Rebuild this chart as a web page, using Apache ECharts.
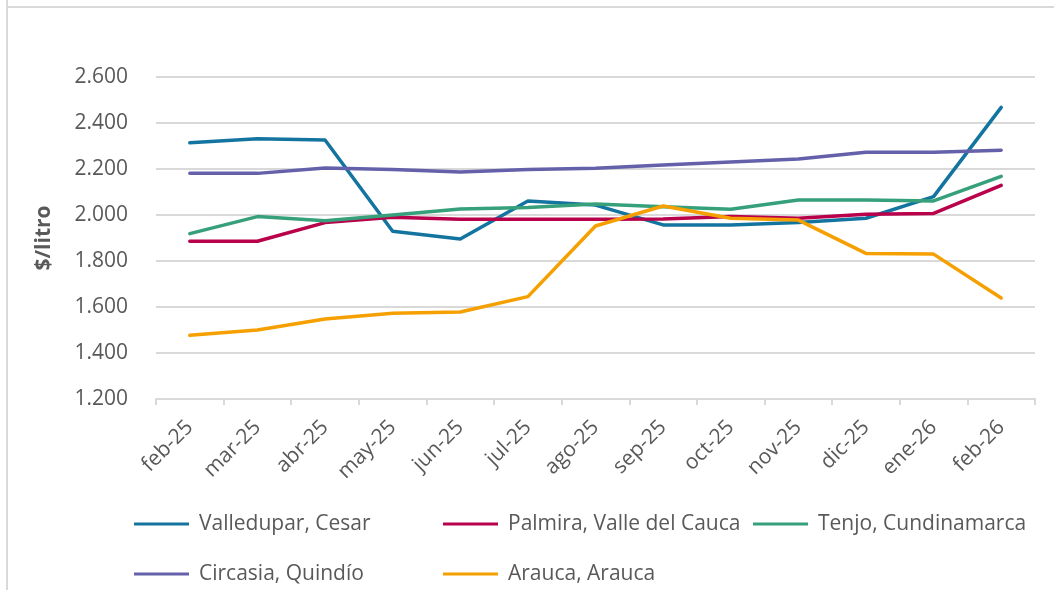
<!DOCTYPE html>
<html>
<head>
<meta charset="utf-8">
<script src="https://cdn.jsdelivr.net/npm/echarts@6/dist/echarts.min.js"></script>
<style>
html,body{margin:0;padding:0;background:#fff;}
#chart{width:1054px;height:590px;}
</style>
</head>
<body>
<div id="chart"></div>
<script>
const categories = ['feb-25','mar-25','abr-25','may-25','jun-25','jul-25','ago-25','sep-25','oct-25','nov-25','dic-25','ene-26','feb-26'];
const valledupar = [2314, 2332, 2326, 1929, 1896, 2061, 2043, 1957, 1957, 1967, 1986, 2080, 2468];
const palmira    = [1886, 1886, 1967, 1990, 1981, 1981, 1981, 1983, 1993, 1986, 2003, 2007, 2129];
const tenjo      = [1919, 1993, 1975, 2000, 2026, 2033, 2048, 2036, 2025, 2065, 2065, 2061, 2168];
const circasia   = [2181, 2181, 2204, 2198, 2187, 2198, 2203, 2217, 2230, 2243, 2273, 2273, 2282];
const arauca     = [1477, 1500, 1548, 1573, 1578, 1645, 1952, 2039, 1986, 1978, 1833, 1830, 1639];
const seriesNames = ['Valledupar, Cesar','Palmira, Valle del Cauca','Tenjo, Cundinamarca','Circasia, Quindío','Arauca, Arauca'];
const seriesData = [valledupar, palmira, tenjo, circasia, arauca];
const colors = ['#13749f','#b8004b','#35a07a','#6461aa','#f5a000'];

const FONT = 'Open Sans';
const FS = 21;
const TXT = '#595959';
const GRIDC = '#d9d9d9';

const chart = echarts.init(document.getElementById('chart'), null, {renderer:'canvas'});

// legend slot per series: [left, top]
const legendSlots = [[134,512],[443,512],[753,512],[134,562],[443,562]];

chart.setOption({
  animation:false,
  color:colors,
  textStyle:{fontFamily:FONT},
  grid:{left:156, right:19, top:77, bottom:191, containLabel:false},
  legend:seriesNames.map(function(n,i){
    return {
      orient:'horizontal', left:legendSlots[i][0], top:legendSlots[i][1], padding:0,
      data:[n], icon:'rect', itemWidth:55, itemHeight:3,
      textStyle:{fontFamily:FONT, fontSize:FS, color:TXT, lineHeight:24, padding:[0,0,0,5]},
      selectedMode:false
    };
  }),
  xAxis:{
    type:'category', data:categories, boundaryGap:true,
    axisLine:{show:true, lineStyle:{color:GRIDC, width:2}},
    axisTick:{show:true, length:6, lineStyle:{color:GRIDC, width:2}},
    axisLabel:{interval:0, rotate:45, margin:25, fontFamily:FONT, fontSize:FS, color:TXT}
  },
  yAxis:{
    type:'value', min:1200, max:2600, interval:200,
    name:'$/litro', nameLocation:'middle', nameGap:101,
    nameTextStyle:{fontFamily:FONT, fontSize:FS, fontWeight:'bold', color:TXT},
    axisLine:{show:false}, axisTick:{show:false},
    splitLine:{lineStyle:{color:GRIDC, width:2}},
    axisLabel:{margin:28, fontFamily:FONT, fontSize:FS, color:TXT,
      formatter:function(v){ return String(v).replace(/\B(?=(\d{3})+(?!\d))/g, '.'); }}
  },
  graphic:[
    {type:'line', shape:{x1:7, y1:0, x2:7, y2:590}, style:{stroke:GRIDC, lineWidth:2}, silent:true},
    {type:'line', shape:{x1:7, y1:7, x2:1054, y2:7}, style:{stroke:GRIDC, lineWidth:2}, silent:true}
  ],
  series:seriesNames.map(function(n,i){
    return {name:n, type:'line', data:seriesData[i], symbol:'none', smooth:false,
      lineStyle:{width:3.5, color:colors[i], join:'round', cap:'round'}, itemStyle:{color:colors[i]}};
  })
});
</script>
</body>
</html>
